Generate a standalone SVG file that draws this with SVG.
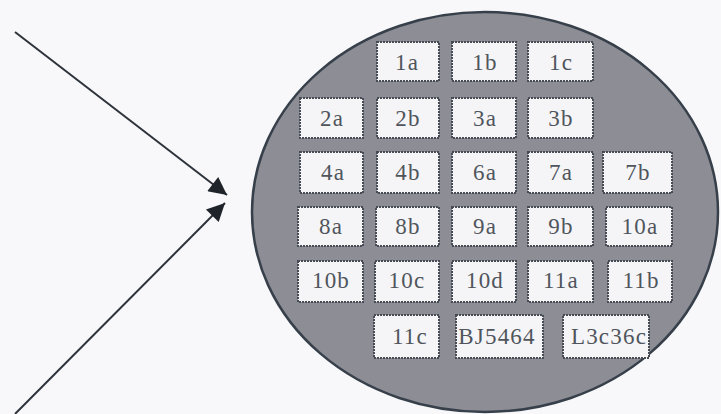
<svg xmlns="http://www.w3.org/2000/svg" width="721" height="414" viewBox="0 0 721 414">
<style>
.bg{fill:#f8f8fa}
.wafer{fill:#8c8d95;stroke:#37404a;stroke-width:2.5}
.box{fill:#f5f5f7;stroke:#474b53;stroke-width:2;stroke-dasharray:2 1}
.lbl{font-family:"Liberation Serif","Times New Roman",serif;font-size:23px;letter-spacing:1.2px;fill:#50555d;text-anchor:middle}
.conn{stroke:#2e333b;stroke-width:2;fill:none}
</style>
<defs>
<marker id="ah" viewBox="0 0 10 10" refX="10" refY="5" markerWidth="11" markerHeight="9" markerUnits="strokeWidth" orient="auto">
<path d="M0,0 L10,5 L0,10 z" fill="#1f242b"/>
</marker>
</defs>
<rect class="bg" x="0" y="0" width="721" height="414"/>
<g id="connectors">
<line class="conn" x1="15" y1="32" x2="227" y2="195" marker-end="url(#ah)"/>
<line class="conn" x1="15" y1="414" x2="225" y2="203" marker-end="url(#ah)"/>
</g>
<g id="wafer"><ellipse class="wafer" cx="485" cy="212" rx="233" ry="200"/></g>
<g id="n1a"><rect class="box" x="377" y="42" width="62" height="39"/><text class="lbl" x="407" y="70">1a</text></g>
<g id="n1b"><rect class="box" x="452" y="42" width="64" height="39"/><text class="lbl" x="485" y="70">1b</text></g>
<g id="n1c"><rect class="box" x="528" y="42" width="65" height="39"/><text class="lbl" x="561" y="70">1c</text></g>
<g id="n2a"><rect class="box" x="300" y="98" width="63" height="40"/><text class="lbl" x="332" y="126">2a</text></g>
<g id="n2b"><rect class="box" x="377" y="98" width="62" height="40"/><text class="lbl" x="408" y="126">2b</text></g>
<g id="n3a"><rect class="box" x="452" y="98" width="64" height="40"/><text class="lbl" x="485" y="126">3a</text></g>
<g id="n3b"><rect class="box" x="528" y="98" width="65" height="40"/><text class="lbl" x="561" y="126">3b</text></g>
<g id="n4a"><rect class="box" x="300" y="152" width="63" height="41"/><text class="lbl" x="333" y="180">4a</text></g>
<g id="n4b"><rect class="box" x="377" y="152" width="62" height="41"/><text class="lbl" x="408" y="180">4b</text></g>
<g id="n6a"><rect class="box" x="452" y="152" width="64" height="41"/><text class="lbl" x="485" y="180">6a</text></g>
<g id="n7a"><rect class="box" x="528" y="152" width="65" height="41"/><text class="lbl" x="561" y="180">7a</text></g>
<g id="n7b"><rect class="box" x="603" y="152" width="69" height="41"/><text class="lbl" x="638" y="180">7b</text></g>
<g id="n8a"><rect class="box" x="298" y="207" width="65" height="39"/><text class="lbl" x="331" y="234">8a</text></g>
<g id="n8b"><rect class="box" x="376" y="207" width="63" height="39"/><text class="lbl" x="408" y="234">8b</text></g>
<g id="n9a"><rect class="box" x="452" y="207" width="64" height="39"/><text class="lbl" x="485" y="234">9a</text></g>
<g id="n9b"><rect class="box" x="528" y="207" width="65" height="39"/><text class="lbl" x="561" y="234">9b</text></g>
<g id="n10a"><rect class="box" x="606" y="207" width="66" height="39"/><text class="lbl" x="640" y="234">10a</text></g>
<g id="n10b"><rect class="box" x="298" y="261" width="65" height="41"/><text class="lbl" x="331" y="288">10b</text></g>
<g id="n10c"><rect class="box" x="375" y="261" width="64" height="41"/><text class="lbl" x="407" y="288">10c</text></g>
<g id="n10d"><rect class="box" x="452" y="261" width="64" height="41"/><text class="lbl" x="485" y="288">10d</text></g>
<g id="n11a"><rect class="box" x="528" y="261" width="65" height="41"/><text class="lbl" x="561" y="288">11a</text></g>
<g id="n11b"><rect class="box" x="608" y="261" width="64" height="41"/><text class="lbl" x="641" y="288">11b</text></g>
<g id="n11c"><rect class="box" x="374" y="315" width="65" height="43"/><text class="lbl" x="410" y="344">11c</text></g>
<g id="nBJ5464"><rect class="box" x="456" y="315" width="87" height="43"/><text class="lbl" x="497" y="344">BJ5464</text></g>
<g id="nL3c36c"><rect class="box" x="563" y="315" width="86" height="43"/><text class="lbl" x="609" y="344">L3c36c</text></g>
</svg>
